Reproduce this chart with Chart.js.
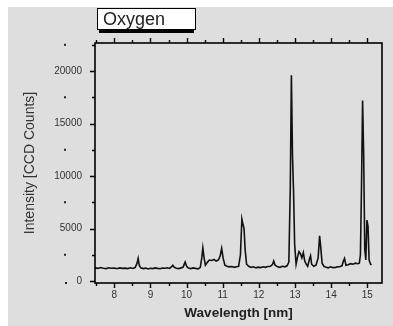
<!DOCTYPE html>
<html>
<head>
<meta charset="utf-8">
<script src="https://cdn.jsdelivr.net/npm/chart.js@4/dist/chart.umd.min.js"></script>
<style>
html,body{margin:0;padding:0;background:#fff;}
#wrap{position:relative;width:393px;height:326px;}
canvas{position:absolute;left:0;top:0;}
#title{position:absolute;left:97px;top:8px;width:92px;height:20px;border:1px solid #000;background:#fff;
 box-shadow:0 5px 0 -2px #000;font:18px "Liberation Sans",Arial,sans-serif;color:#222;line-height:20px;padding-left:5px;box-sizing:content-box;}
</style>
</head>
<body>
<div id="wrap">
<canvas id="c" width="393" height="326"></canvas>
<div id="title">Oxygen</div>
</div>
<script>
const chartTitle = "Oxygen";
const xTitle = "Wavelength [nm]";
const yTitle = "Intensity [CCD Counts]";
const xTicks = [8, 9, 10, 11, 12, 13, 14, 15];
const yTicks = [0, 5000, 10000, 15000, 20000];
const wavelength = [
7.47,7.55,7.62,7.70,7.78,7.85,7.92,8.00,8.07,8.15,8.22,8.30,8.37,8.45,8.52,8.58,8.63,8.66,8.69,8.73,
8.80,8.87,8.93,9.00,9.07,9.13,9.20,9.27,9.33,9.40,9.47,9.53,9.58,9.62,9.66,9.72,9.78,9.85,9.90,9.96,
10.00,10.05,10.12,10.18,10.25,10.32,10.38,10.42,10.45,10.48,10.52,10.58,10.63,10.70,10.76,10.82,10.88,10.93,10.97,11.01,
11.06,11.12,11.18,11.25,11.32,11.38,11.44,11.49,11.53,11.56,11.59,11.62,11.66,11.72,11.78,11.85,11.92,11.98,12.05,12.12,
12.18,12.25,12.32,12.38,12.41,12.45,12.52,12.58,12.65,12.72,12.78,12.83,12.87,12.90,12.93,12.96,12.99,13.03,13.07,13.11,
13.15,13.19,13.23,13.27,13.31,13.35,13.40,13.43,13.46,13.52,13.58,13.64,13.68,13.71,13.75,13.80,13.86,13.92,13.98,14.05,
14.12,14.18,14.25,14.30,14.34,14.37,14.41,14.47,14.54,14.60,14.67,14.73,14.78,14.81,14.84,14.87,14.90,14.93,14.96,14.99,
15.02,15.05,15.09,15.12
];
const intensity = [
1250,1200,1280,1220,1180,1260,1210,1240,1170,1250,1200,1230,1180,1260,1200,1300,1700,2150,1500,1250,
1180,1230,1150,1220,1180,1250,1200,1170,1240,1210,1260,1200,1350,1500,1300,1220,1180,1250,1300,1800,
1400,1230,1180,1250,1200,1160,1300,2200,3150,2300,1500,1800,2000,1950,2050,1900,2000,2400,3100,2200,
1500,1400,1350,1380,1300,1350,1400,2500,5900,5400,5000,3000,1600,1400,1300,1350,1250,1320,1280,1350,
1300,1380,1400,1600,1900,1500,1350,1300,1400,1350,1450,1800,9000,19600,12000,8500,3500,1600,2300,2800,
2600,2200,2700,1900,1600,1400,2100,2400,1600,1400,1500,2200,4300,3300,1700,1400,1300,1250,1350,1280,
1300,1350,1380,1450,1900,2150,1500,1550,1650,1600,1700,1650,1700,2500,9000,17200,12000,3000,2000,5800,
5200,2000,1600,1550
];

const points = wavelength.map((x, i) => ({x: x, y: intensity[i]}));

const decor = {
  id: 'decor',
  beforeDraw(chart) {
    const ctx = chart.ctx;
    ctx.save();
    ctx.fillStyle = '#dedede';
    ctx.fillRect(8, 7, 385, 319);
    ctx.restore();
  },
  afterDraw(chart) {
    const ctx = chart.ctx, a = chart.chartArea;
    const xs = chart.scales.x, ys = chart.scales.y;
    ctx.save();
    ctx.strokeStyle = '#000';
    ctx.lineWidth = 1.6;
    ctx.strokeRect(a.left, a.top, a.right - a.left, a.bottom - a.top);
    ctx.lineWidth = 1.4;
    ctx.beginPath();
    for (let v = 7.5; v <= 15.01; v += 0.5) {
      const px = Math.round(xs.getPixelForValue(v)) + 0.5;
      const major = Math.abs(v - Math.round(v)) < 1e-6;
      const len = major ? 5 : 3;
      ctx.moveTo(px, a.bottom); ctx.lineTo(px, a.bottom + len);
      ctx.moveTo(px, a.top); ctx.lineTo(px, a.top - len);
    }
    for (let v = 0; v <= 22500; v += 2500) {
      const py = Math.round(ys.getPixelForValue(v)) + 0.5;
      const major = v % 5000 === 0;
      const len = major ? 5 : 3;
      ctx.moveTo(a.left, py); ctx.lineTo(a.left - len, py);
    }
    ctx.stroke();
    ctx.fillStyle = '#222';
    for (let v = 2500; v <= 22500; v += 5000) {
      const py = ys.getPixelForValue(v);
      ctx.fillRect(64, py - 1, 2, 2);
    }
    ctx.fillRect(65, a.bottom - 1, 2, 2);
    ctx.restore();
  }
};

new Chart(document.getElementById('c'), {
  type: 'line',
  data: {
    datasets: [{
      label: chartTitle,
      data: points,
      borderColor: '#111',
      borderWidth: 1.6,
      pointRadius: 0,
      tension: 0,
      fill: false
    }]
  },
  options: {
    responsive: false,
    animation: false,
    layout: {padding: {left: 0, top: 43, right: 11, bottom: 0}},
    plugins: {legend: {display: false}, tooltip: {enabled: false}, title: {display: false}},
    scales: {
      x: {
        type: 'linear', min: 7.466, max: 15.407,
        afterFit(s) { s.height = 43; },
        afterBuildTicks(s) { s.ticks = xTicks.map(v => ({value: v})); },
        grid: {display: false, drawTicks: false},
        border: {display: false},
        ticks: {padding: 6, color: '#333', font: {family: 'Liberation Sans', size: 10}, maxRotation: 0,
                callback: v => String(v)},
        title: {display: true, text: xTitle, color: '#222', font: {family: 'Liberation Sans', size: 13.5, weight: 'bold'},
                padding: {top: 0, bottom: 5}}
      },
      y: {
        type: 'linear', min: -190, max: 22670,
        afterFit(s) { s.width = 95; },
        afterBuildTicks(s) { s.ticks = yTicks.map(v => ({value: v})); },
        grid: {display: false, drawTicks: false},
        border: {display: false},
        ticks: {padding: 13, color: '#333', font: {family: 'Liberation Sans', size: 10},
                callback: v => String(v)},
        title: {display: true, text: yTitle, color: '#333', font: {family: 'Liberation Sans', size: 14},
                padding: {top: 22, bottom: 0}}
      }
    }
  },
  plugins: [decor]
});
</script>
</body>
</html>
